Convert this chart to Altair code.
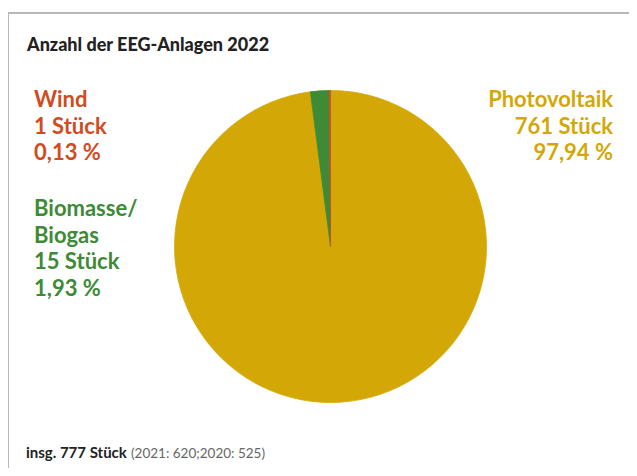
import altair as alt
import pandas as pd

# ---- data ----
categories = ["Photovoltaik", "Biomasse/Biogas", "Wind"]
label_names = ["Photovoltaik", "Biomasse/\nBiogas", "Wind"]
counts = [761, 15, 1]
percents = [97.94, 1.93, 0.13]
colors = ["#D3A806", "#3E8A36", "#D24B1E"]
title_text = "Anzahl der EEG-Anlagen 2022"
total_text = "insg. 777 Stück"
prev_text = "(2021: 620;2020: 525)"

FONT = "Lato"

df = pd.DataFrame({
    "cat": categories,
    "count": counts,
    "order": list(range(len(categories))),
})

color_scale = alt.Scale(domain=categories, range=colors)

pie = alt.Chart(df).mark_arc(outerRadius=156, strokeWidth=0.8).encode(
    theta=alt.Theta("count:Q", stack=True),
    order=alt.Order("order:Q"),
    color=alt.Color("cat:N", scale=color_scale, legend=None),
    stroke=alt.Stroke("cat:N", scale=color_scale, legend=None),
    x=alt.value(322.5),
    y=alt.value(238.5),
)


def fmt_pct(p):
    return f"{p:.2f}".replace(".", ",") + " %"


def label_layer(i, x, y, align):
    text = f"{label_names[i]}\n{counts[i]} Stück\n{fmt_pct(percents[i])}"
    d = pd.DataFrame({"t": [text.split("\n")]})
    return alt.Chart(d).mark_text(
        font=FONT, fontSize=22, fontWeight="bold", align=align,
        baseline="alphabetic", lineHeight=26.7, color=colors[i],
    ).encode(text="t", x=alt.value(x), y=alt.value(y))


pv = label_layer(0, 605, 99, "right")
bio = label_layer(1, 26, 208, "left")
wind = label_layer(2, 26, 99, "left")

title = alt.Chart(pd.DataFrame({"t": [title_text]})).mark_text(
    font=FONT, fontSize=18, fontWeight=900, align="left",
    baseline="alphabetic", color="#222222",
).encode(text="t", x=alt.value(19), y=alt.value(43))

total = alt.Chart(pd.DataFrame({"t": [total_text]})).mark_text(
    font=FONT, fontSize=15, fontWeight="bold", align="left",
    baseline="alphabetic", color="#222222",
).encode(text="t", x=alt.value(18), y=alt.value(450))

prev = alt.Chart(pd.DataFrame({"t": [prev_text]})).mark_text(
    font=FONT, fontSize=13.5, fontWeight=400, align="left",
    baseline="alphabetic", color="#666666",
).encode(text="t", x=alt.value(123), y=alt.value(450))

border_top = alt.Chart(pd.DataFrame({"a": [0]})).mark_rule(
    color="#B8B8B8", strokeWidth=2
).encode(x=alt.value(0), x2=alt.value(621), y=alt.value(5))

border_left = alt.Chart(pd.DataFrame({"a": [0]})).mark_rule(
    color="#B8B8B8", strokeWidth=2
).encode(x=alt.value(0), y=alt.value(5), y2=alt.value(460))

chart = alt.layer(
    border_top, border_left, pie, title, wind, pv, bio, total, prev
).properties(
    width=621, height=460, padding=0,
    autosize=alt.AutoSizeParams(type="none"),
).configure_view(stroke=None)

chart.save("out.html", embed_options={"renderer": "svg", "actions": False})
